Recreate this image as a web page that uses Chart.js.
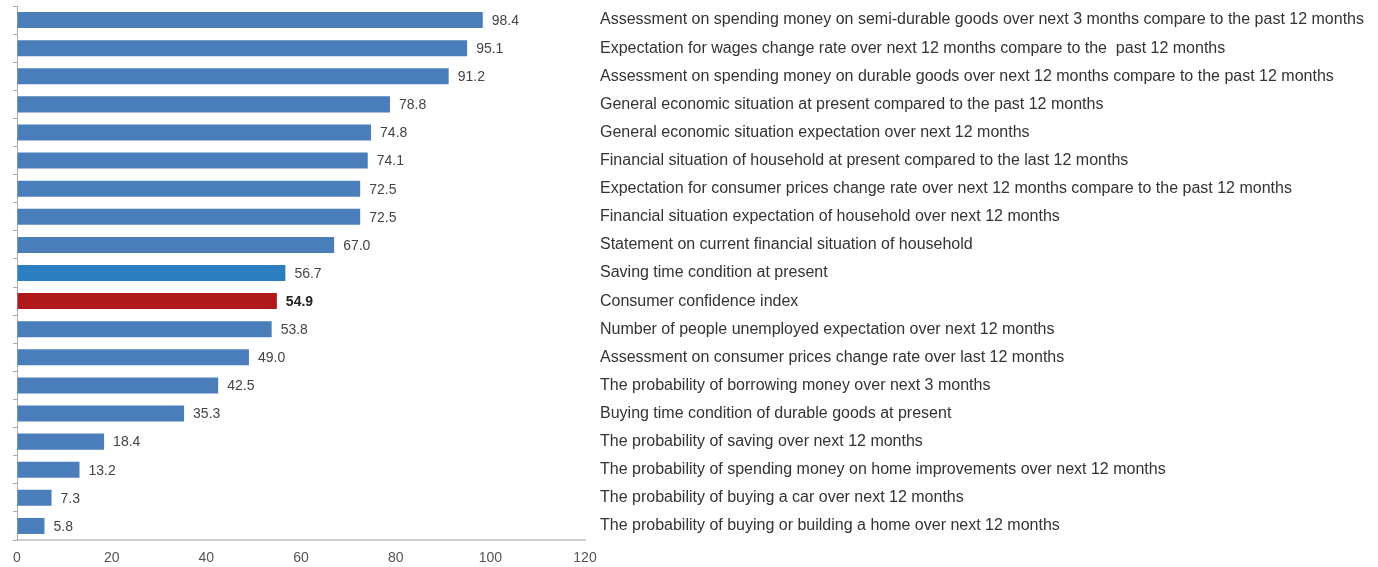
<!DOCTYPE html>
<html>
<head>
<meta charset="utf-8">
<script src="https://cdn.jsdelivr.net/npm/chart.js@4/dist/chart.umd.min.js"></script>
<style>
  html, body { margin: 0; padding: 0; background: #fff; }
  #wrap { width: 1378px; height: 567px; position: relative; }
</style>
</head>
<body>
<div id="wrap"><canvas id="indexChart"></canvas></div>
<script>
// Categories (top to bottom)
const categories = [
  'Assessment on spending money on semi-durable goods over next 3 months compare to the past 12 months',
  'Expectation for wages change rate over next 12 months compare to the  past 12 months',
  'Assessment on spending money on durable goods over next 12 months compare to the past 12 months',
  'General economic situation at present compared to the past 12 months',
  'General economic situation expectation over next 12 months',
  'Financial situation of household at present compared to the last 12 months',
  'Expectation for consumer prices change rate over next 12 months compare to the past 12 months',
  'Financial situation expectation of household over next 12 months',
  'Statement on current financial situation of household',
  'Saving time condition at present',
  'Consumer confidence index',
  'Number of people unemployed expectation over next 12 months',
  'Assessment on consumer prices change rate over last 12 months',
  'The probability of borrowing money over next 3 months',
  'Buying time condition of durable goods at present',
  'The probability of saving over next 12 months',
  'The probability of spending money on home improvements over next 12 months',
  'The probability of buying a car over next 12 months',
  'The probability of buying or building a home over next 12 months'
];

// Index values
const values = [98.4, 95.1, 91.2, 78.8, 74.8, 74.1, 72.5, 72.5, 67.0, 56.7, 54.9, 53.8, 49.0, 42.5, 35.3, 18.4, 13.2, 7.3, 5.8];

// X axis ticks
const xTicks = [0, 20, 40, 60, 80, 100, 120];

const highlightIndex = 10;   // consumer confidence index
const savingIndex = 9;

const barColors = values.map((v, i) => {
  if (i === highlightIndex) return '#b0191b';
  if (i === savingIndex) return '#2b7fc1';
  return '#4a7ebb';
});

const fontFamily = '"Liberation Sans", Arial, sans-serif';

// Draw value labels at bar ends
const valueLabels = {
  id: 'valueLabels',
  afterDatasetsDraw(chart) {
    const ctx = chart.ctx;
    const meta = chart.getDatasetMeta(0);
    ctx.save();
    ctx.textBaseline = 'middle';
    ctx.textAlign = 'left';
    meta.data.forEach((bar, i) => {
      ctx.font = (i === highlightIndex ? 'bold ' : '') + '14px ' + fontFamily;
      ctx.fillStyle = i === highlightIndex ? '#222' : '#444';
      ctx.fillText(values[i].toFixed(1), bar.x + 9, bar.y + 1);
    });
    ctx.restore();
  }
};

new Chart(document.getElementById('indexChart'), {
  type: 'bar',
  data: {
    labels: categories,
    datasets: [{
      data: values,
      backgroundColor: barColors,
      borderWidth: 0,
      categoryPercentage: 1,
      barPercentage: 0.57
    }]
  },
  options: {
    indexAxis: 'y',
    responsive: true,
    maintainAspectRatio: false,
    animation: false,
    layout: { padding: { top: 6, left: 0, right: 0, bottom: 0 } },
    plugins: {
      legend: { display: false },
      tooltip: { enabled: false }
    },
    scales: {
      x: {
        min: 0,
        max: 120,
        afterBuildTicks(scale) {
          scale.ticks = xTicks.map(v => ({ value: v }));
        },
        afterFit(scale) {
          scale.height = 27;
          scale.paddingLeft = 0;
          scale.paddingRight = 0;
        },
        grid: { drawOnChartArea: false, drawTicks: false },
        border: { color: '#cfcfcf', width: 2 },
        ticks: {
          padding: 10,
          color: '#555',
          font: { size: 14, family: fontFamily }
        }
      },
      y: {
        position: 'left',
        afterFit(scale) {
          scale.width = 17;
          scale.paddingTop = 0;
          scale.paddingBottom = 0;
        },
        grid: { drawOnChartArea: false, drawTicks: true, tickLength: 4, color: '#aaa', offset: true },
        border: { color: '#aaa' },
        ticks: { display: false }
      },
      y2: {
        type: 'category',
        position: 'right',
        labels: categories,
        offset: true,
        afterFit(scale) {
          scale.width = 1378 - 585;
          scale.paddingTop = 0;
          scale.paddingBottom = 0;
        },
        grid: { display: false, drawTicks: false },
        border: { display: false },
        ticks: {
          padding: 15,
          color: '#333',
          autoSkip: false,
          font: { size: 16, family: fontFamily }
        }
      }
    }
  },
  plugins: [valueLabels]
});
</script>
</body>
</html>
